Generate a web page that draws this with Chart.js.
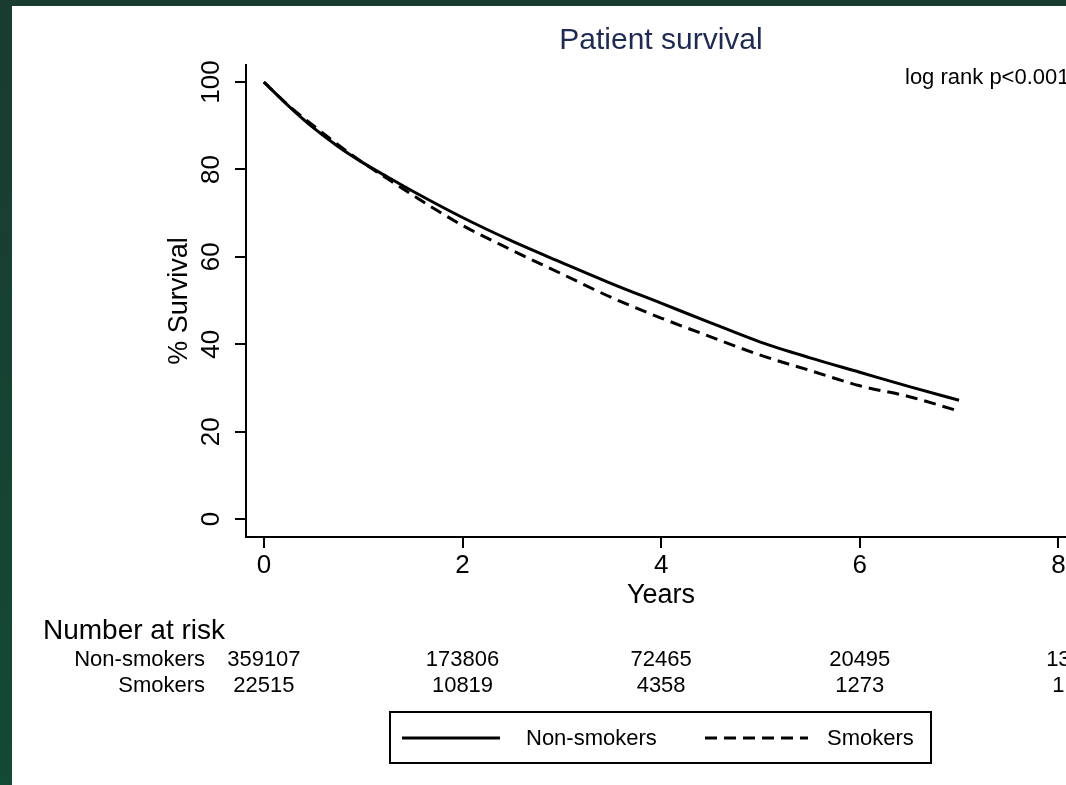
<!DOCTYPE html>
<html lang="en">
<head>
    <meta charset="UTF-8">
    <title>Patient survival</title>
    <script src="https://cdn.jsdelivr.net/npm/chart.js"></script>
    <style>
        html, body {
            margin: 0;
            padding: 0;
            width: 1066px;
            height: 785px;
            overflow: hidden;
            background: linear-gradient(180deg, #1a3b30 0%, #134a35 100%);
        }
        #survivalChart {
            position: absolute;
            left: 12px;
            top: 6px;
            background: #fff;
        }
    </style>
</head>
<body>
    <canvas id="survivalChart" width="1108" height="779"></canvas>

    <script>
        // survival curves (years, % surviving)
        const years = [0, 0.25, 0.5, 0.75, 1, 1.25, 1.5, 2, 2.5, 3, 3.5, 4, 4.5, 5, 5.5, 6, 6.5, 7];
        const nonSmokers = [100, 94.5, 89.5, 85.2, 81.5, 78.2, 75.0, 69.0, 63.6, 58.7, 53.9, 49.4, 44.9, 40.5, 36.9, 33.6, 30.3, 27.2];
        const smokers = [100, 94.6, 90.0, 85.6, 81.5, 77.8, 74.1, 67.2, 61.5, 56.1, 50.7, 46.0, 41.7, 37.5, 34.0, 30.5, 28.0, 24.7];

        const xTicks = [0, 2, 4, 6, 8];
        const yTicks = [0, 20, 40, 60, 80, 100];

        // number at risk at each x tick
        const riskNonSmokers = ['359107', '173806', '72465', '20495', '13'];
        const riskSmokers = ['22515', '10819', '4358', '1273', '1'];

        const FONT = '"Liberation Sans", Arial, sans-serif';

        const extras = {
            id: 'extras',
            afterDraw(chart) {
                const ctx = chart.ctx;
                const xs = chart.scales.x;
                const ys = chart.scales.y;
                const area = chart.chartArea;
                ctx.save();

                // title
                ctx.fillStyle = '#1f2a52';
                ctx.font = '30px ' + FONT;
                ctx.textAlign = 'center';
                ctx.textBaseline = 'middle';
                ctx.fillText('Patient survival', 649, 35);

                ctx.fillStyle = '#000';
                ctx.font = '22px ' + FONT;
                ctx.textAlign = 'left';
                ctx.fillText('log rank p<0.001', 893, 72);

                // y tick labels (rotated, Stata style)
                ctx.font = '26px ' + FONT;
                ctx.textAlign = 'center';
                yTicks.forEach(v => {
                    ctx.save();
                    ctx.translate(200, ys.getPixelForValue(v));
                    ctx.rotate(-Math.PI / 2);
                    ctx.fillText(String(v), 0, 0);
                    ctx.restore();
                });

                // axis titles
                ctx.font = '27px ' + FONT;
                ctx.save();
                ctx.translate(168, (area.top + area.bottom) / 2);
                ctx.rotate(-Math.PI / 2);
                ctx.fillText('% Survival', 0, 0);
                ctx.restore();
                ctx.fillText('Years', 649, 590);

                // number at risk table
                ctx.font = '28px ' + FONT;
                ctx.textAlign = 'left';
                ctx.fillText('Number at risk', 31, 625);
                ctx.font = '22px ' + FONT;
                ctx.textAlign = 'right';
                ctx.fillText('Non-smokers', 193, 654);
                ctx.fillText('Smokers', 193, 680);
                ctx.textAlign = 'center';
                xTicks.forEach((t, i) => {
                    const px = xs.getPixelForValue(t);
                    ctx.fillText(riskNonSmokers[i], px, 654);
                    ctx.fillText(riskSmokers[i], px, 680);
                });

                // legend
                ctx.strokeStyle = '#000';
                ctx.lineWidth = 2;
                ctx.strokeRect(378, 706, 541, 51);
                ctx.lineWidth = 3;
                ctx.beginPath();
                ctx.moveTo(390, 732);
                ctx.lineTo(488, 732);
                ctx.stroke();
                ctx.setLineDash([12, 7]);
                ctx.beginPath();
                ctx.moveTo(693, 732);
                ctx.lineTo(796, 732);
                ctx.stroke();
                ctx.setLineDash([]);
                ctx.textAlign = 'left';
                ctx.fillText('Non-smokers', 514, 733);
                ctx.fillText('Smokers', 815, 733);

                ctx.restore();
            }
        };

        const ctx = document.getElementById('survivalChart').getContext('2d');
        const survivalChart = new Chart(ctx, {
            type: 'scatter',
            data: {
                datasets: [{
                    label: 'Non-smokers',
                    data: years.map((t, i) => ({ x: t, y: nonSmokers[i] })),
                    showLine: true,
                    borderColor: '#000',
                    borderWidth: 3,
                    pointRadius: 0,
                    cubicInterpolationMode: 'monotone'
                }, {
                    label: 'Smokers',
                    data: years.map((t, i) => ({ x: t, y: smokers[i] })),
                    showLine: true,
                    borderColor: '#000',
                    borderWidth: 3,
                    borderDash: [12, 7],
                    pointRadius: 0,
                    cubicInterpolationMode: 'monotone'
                }]
            },
            options: {
                responsive: false,
                animation: false,
                layout: {
                    padding: { left: 0, right: 8, top: 59, bottom: 0 }
                },
                plugins: {
                    legend: { display: false },
                    tooltip: { enabled: false }
                },
                scales: {
                    x: {
                        type: 'linear',
                        min: -0.18,
                        max: 8.54,
                        afterBuildTicks: s => { s.ticks = xTicks.map(v => ({ value: v })); },
                        afterFit: s => { s.height = 248; },
                        border: { display: true, color: '#000', width: 2 },
                        grid: { drawOnChartArea: false, drawTicks: true, tickLength: 11, color: '#000', lineWidth: 2 },
                        ticks: { color: '#000', font: { size: 26, family: FONT }, padding: 2, maxRotation: 0 }
                    },
                    y: {
                        min: -4.1,
                        max: 103.9,
                        afterBuildTicks: s => { s.ticks = yTicks.map(v => ({ value: v })); },
                        afterFit: s => { s.width = 234; },
                        border: { display: true, color: '#000', width: 2 },
                        grid: { drawOnChartArea: false, drawTicks: true, tickLength: 11, color: '#000', lineWidth: 2 },
                        ticks: { color: 'rgba(0,0,0,0)', font: { size: 26, family: FONT } }
                    }
                }
            },
            plugins: [extras]
        });
    </script>
</body>
</html>
